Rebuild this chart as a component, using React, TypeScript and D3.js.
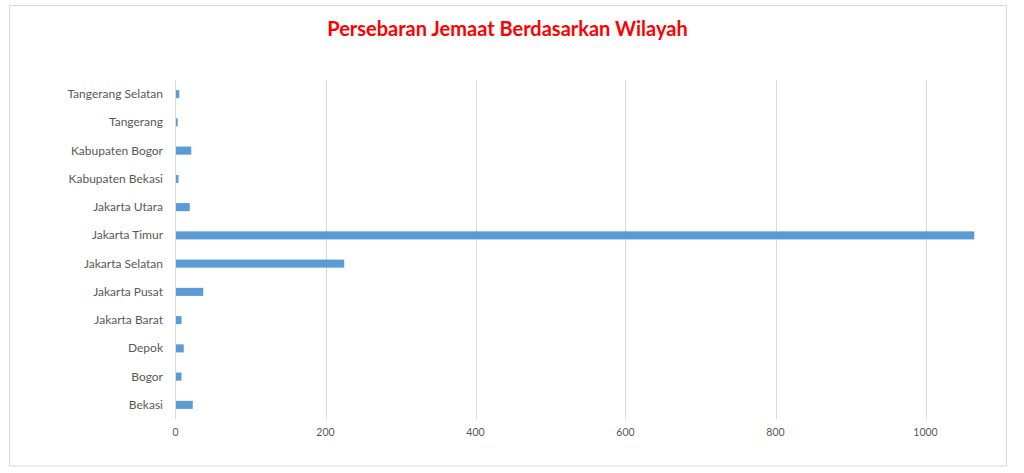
import React from "react";
import * as d3 from "d3";

const categories = [
  "Tangerang Selatan",
  "Tangerang",
  "Kabupaten Bogor",
  "Kabupaten Bekasi",
  "Jakarta Utara",
  "Jakarta Timur",
  "Jakarta Selatan",
  "Jakarta Pusat",
  "Jakarta Barat",
  "Depok",
  "Bogor",
  "Bekasi",
];
const values = [5, 3, 21, 4, 19, 1065, 225, 37, 8, 11, 8, 23];
const xTicks = [0, 200, 400, 600, 800, 1000];
const title = "Persebaran Jemaat Berdasarkan Wilayah";

const W = 1024;
const H = 473;

export default function App() {
  const x = d3.scaleLinear().domain([0, 1100]).range([175.5, 1000.5]);
  const y = d3.scaleBand<string>().domain(categories).range([80, 419]);
  const barH = y.bandwidth() * 0.285;
  const font = "Lato, 'Open Sans', sans-serif";
  return (
    <div style={{ position: "fixed", left: 0, top: 0 }}>
      <svg width={W} height={H} style={{ display: "block" }}>
        <rect x={0} y={0} width={W} height={H} fill="#fff" />
        <rect x={9.5} y={5.5} width={997} height={460.5} fill="#fff" stroke="#d9d9d9" strokeWidth={1} />
        <text
          x={507.5}
          y={35.5}
          textAnchor="middle"
          fill="#ff0000"
          fontFamily={font}
          fontWeight="bold"
          fontSize={20}
        >
          {title}
        </text>
        {xTicks.map((t) => (
          <g key={t}>
            {t !== 0 && (
              <line x1={Math.round(x(t)) + 0.5} x2={Math.round(x(t)) + 0.5} y1={80} y2={419} stroke="#d9d9d9" strokeWidth={1} />
            )}
            <text
              x={x(t)}
              y={436}
              textAnchor="middle"
              fill="#595959"
              fontFamily={font}
              fontSize={10.5}
            >
              {t}
            </text>
          </g>
        ))}
        {categories.map((c, i) => {
          const cy = (y(c) as number) + y.bandwidth() / 2;
          return (
            <g key={c}>
              <rect x={x(0)} y={cy - barH / 2} width={x(values[i]) - x(0)} height={barH} fill="#5b9bd5" />
              <text
                x={163}
                y={cy + 4}
                textAnchor="end"
                fill="#595959"
                fontFamily={font}
                fontSize={12}
              >
                {c}
              </text>
            </g>
          );
        })}
        <line x1={175.5} x2={175.5} y1={80} y2={419} stroke="#d9d9d9" strokeWidth={1} />
      </svg>
    </div>
  );
}
